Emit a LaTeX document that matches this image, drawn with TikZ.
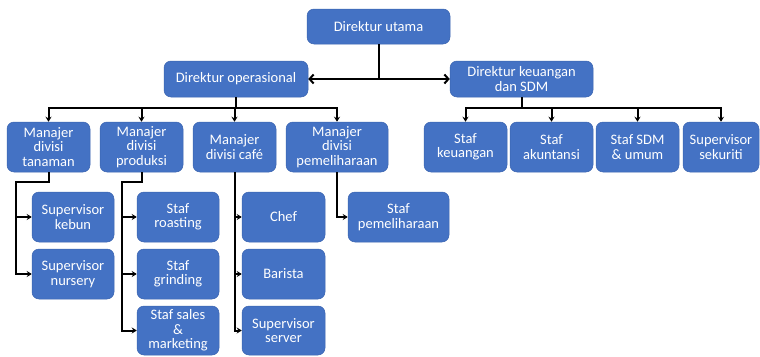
\documentclass[tikz,border=0pt]{standalone}
\usepackage{fontspec}
\setmainfont{Carlito}
\usetikzlibrary{arrows.meta}
\definecolor{boxblue}{HTML}{4472C4}
\definecolor{boxedge}{HTML}{3B64B0}
\begin{document}
\begin{tikzpicture}[x=1pt,y=-1pt,
  box/.style={rectangle, rounded corners=7pt, fill=boxblue, draw=boxedge,
    line width=0.5pt, text=white, align=center, inner sep=0pt,
    minimum width=83pt, minimum height=50pt,
    font=\fontsize{14.5}{14.5}\selectfont},
  wire/.style={line width=2pt},
  bus/.style={wire, line cap=rect},
  dn/.style={wire, -{Stealth[length=5pt,width=6pt]}},
  side/.style={wire, -{Straight Barb[length=4pt,width=9pt]}},
]
\useasboundingbox (0,0) rectangle (760,356);

% top level
\node[box, minimum width=143pt, minimum height=35pt] (du) at (378.5,26.5) {Direktur utama};
\node[box, minimum width=144pt, minimum height=36pt] (dop) at (236,79) {Direktur operasional};
\node[box, minimum width=143pt, minimum height=36pt] (dk) at (521.5,79) {Direktur keuangan\\dan SDM};

% managers
\node[box] (m1) at (48.5,147) {Manajer\\divisi\\tanaman};
\node[box] (m2) at (141.5,147) {Manajer\\divisi\\produksi};
\node[box] (m3) at (234.5,147) {Manajer\\divisi café};
\node[box, minimum width=102pt] (m4) at (337,147) {Manajer\\divisi\\pemeliharaan};

% finance & HR staff
\node[box] (s1) at (465.5,147) {Staf\\keuangan};
\node[box] (s2) at (551.5,147) {Staf\\akuntansi};
\node[box] (s3) at (637.5,147) {Staf SDM\\\& umum};
\node[box, minimum width=76pt] (s4) at (721,147) {Supervisor\\sekuriti};

% division staff
\node[box, minimum width=82pt] (k1) at (73,217) {Supervisor\\kebun};
\node[box, minimum width=82pt] (k2) at (73,274) {Supervisor\\nursery};
\node[box, minimum width=82pt] (p1) at (178,217) {Staf\\roasting};
\node[box, minimum width=82pt] (p2) at (178,274) {Staf\\grinding};
\node[box, minimum width=82pt, minimum height=49pt] (p3) at (178,330.5) {Staf sales\\\&\\marketing};
\node[box] (c1) at (283.5,217) {Chef};
\node[box] (c2) at (283.5,274) {Barista};
\node[box, minimum height=49pt] (c3) at (283.5,330.5) {Supervisor\\server};
\node[box, minimum width=101pt] (h1) at (398.5,217) {Staf\\pemeliharaan};

% director links
\coordinate (j0) at (du.south |- dop.east);
\draw[wire] (du.south) -- (j0);
\draw[side] (j0) -- (dop.east);
\draw[side] (j0) -- (dk.west);

% operations bus
\coordinate (bl) at (236,108);
\draw[wire] (dop.south) -- (bl);
\draw[bus] (m1.north |- bl) -- (m4.north |- bl);
\foreach \m in {m1,m2,m3,m4} \draw[dn] (\m.north |- bl) -- (\m.north);

% finance bus
\coordinate (br) at (dk.south |- bl);
\draw[wire] (dk.south) -- (br);
\draw[bus] (s1.north |- br) -- (s4.north |- br);
\foreach \s in {s1,s2,s3,s4} \draw[dn] (\s.north |- br) -- (\s.north);

% plantation division
\coordinate (t1) at (16,182);
\draw[dn] (m1.south) |- (t1) |- (k2.west);
\draw[dn] (t1 |- k1.west) -- (k1.west);

% production division
\coordinate (t2) at (122,182);
\draw[dn] (m2.south) |- (t2) |- (p3.west);
\draw[dn] (t2 |- p1.west) -- (p1.west);
\draw[dn] (t2 |- p2.west) -- (p2.west);

% cafe division
\draw[dn] (m3.south) |- (c3.west);
\draw[dn] (m3.south |- c1.west) -- (c1.west);
\draw[dn] (m3.south |- c2.west) -- (c2.west);

% maintenance division
\draw[dn] (m4.south) |- (h1.west);
\end{tikzpicture}
\end{document}
